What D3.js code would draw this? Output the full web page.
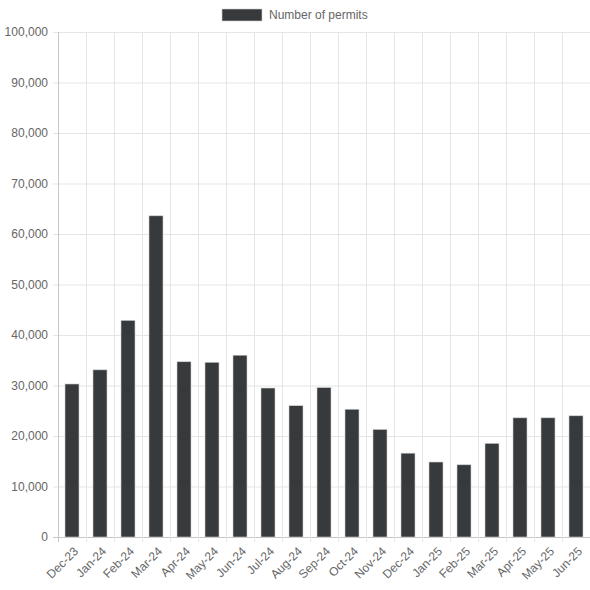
<!DOCTYPE html>
<html><head><meta charset="utf-8">
<script src="https://cdn.jsdelivr.net/npm/d3@7"></script>
<style>body{margin:0;background:#fff}svg{font-family:"Liberation Sans",Arial,sans-serif}</style>
</head><body><svg id="c" width="590" height="590"></svg>
<script>
const categories=["Dec-23","Jan-24","Feb-24","Mar-24","Apr-24","May-24","Jun-24","Jul-24","Aug-24","Sep-24","Oct-24","Nov-24","Dec-24","Jan-25","Feb-25","Mar-25","Apr-25","May-25","Jun-25"];
const permits=[30300,33100,42900,63600,34700,34600,36000,29500,26000,29600,25300,21300,16600,14850,14300,18550,23600,23600,24000];
const yTicks=[0,10000,20000,30000,40000,50000,60000,70000,80000,90000,100000];
const seriesName="Number of permits";
const svg=d3.select("#c");
const L=58,R=590,T=32,B=537;
const x=d3.scaleBand().domain(categories).range([L,R]).paddingInner(0).paddingOuter(0);
const y=d3.scaleLinear().domain([0,100000]).range([B,T]);
const g=svg.append("g");
// grid
g.selectAll(".hg").data(yTicks).join("line").attr("x1",L-5).attr("x2",R).attr("y1",d=>y(d)+0.5).attr("y2",d=>y(d)+0.5)
 .attr("stroke",d=>d===0?"#c8c8c8":"#e5e5e5");
const xs=categories.map(c=>x(c)).concat([R]);
g.selectAll(".vg").data(xs).join("line").attr("x1",d=>Math.round(d)+0.5).attr("x2",d=>Math.round(d)+0.5).attr("y1",T).attr("y2",B+5)
 .attr("stroke",(d,i)=>i===0?"#c8c8c8":"#e5e5e5");
// bars
const bw=x.bandwidth()*0.5;
g.selectAll("rect.b").data(permits).join("rect").attr("class","b")
 .attr("x",(d,i)=>x(categories[i])+(x.bandwidth()-bw)/2).attr("width",bw)
 .attr("y",d=>y(d)).attr("height",d=>B-y(d)).attr("fill","#373a3d").attr("stroke","#d0d0d0").attr("stroke-width",0.6);
// y labels
g.selectAll(".yl").data(yTicks).join("text").attr("x",L-10).attr("y",d=>y(d)).attr("dy","0.35em")
 .attr("text-anchor","end").attr("font-size",12).attr("fill","#666").text(d=>d3.format(",")(d));
// x labels
g.selectAll(".xl").data(categories).join("text")
 .attr("transform",d=>`translate(${x(d)+x.bandwidth()/2+4},${B+12}) rotate(-45)`)
 .attr("text-anchor","end").attr("font-size",12).attr("fill","#666").attr("dy","0.35em").text(d=>d);
// legend
svg.append("rect").attr("x",222).attr("y",9).attr("width",40).attr("height",12).attr("fill","#373a3d").attr("stroke","#d0d0d0").attr("stroke-width",0.6);
svg.append("text").attr("x",269).attr("y",15).attr("dy","0.35em").attr("font-size",12).attr("fill","#666").text(seriesName);
</script></body></html>
